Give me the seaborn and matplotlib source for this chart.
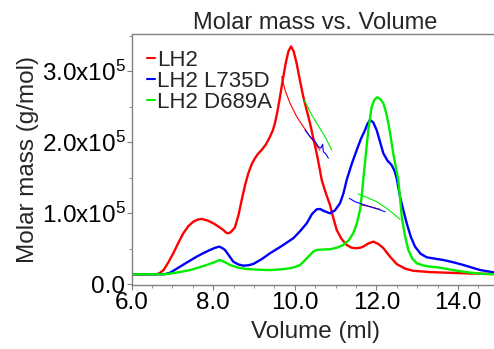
import pandas as pd
import matplotlib
matplotlib.use('Agg')
import matplotlib.pyplot as plt
import seaborn as sns
from matplotlib.ticker import MultipleLocator, FuncFormatter

# Thick traces (detector signal, plotted on the molar mass scale), molar mass in 1e5 g/mol
lh2_vol = [6.0, 6.6, 6.68, 6.78, 6.9, 7.02, 7.14, 7.265, 7.39, 7.51, 7.62, 7.716, 7.85, 8.0, 8.12,
           8.245, 8.32, 8.368, 8.43, 8.53, 8.62, 8.696, 8.78, 8.858, 8.94, 9.02, 9.10, 9.186, 9.29,
           9.39, 9.46, 9.512, 9.57, 9.635, 9.70, 9.77, 9.84, 9.905, 9.97, 10.044, 10.12, 10.206,
           10.29, 10.37, 10.45, 10.534, 10.60, 10.657, 10.76, 10.86, 10.94, 11.025, 11.14, 11.27,
           11.39, 11.515, 11.60, 11.676, 11.80, 11.92, 12.04, 12.167, 12.33, 12.495, 12.7, 12.9,
           13.3, 13.72, 14.3, 14.855, 15.0]
lh2_mm = [0.141, 0.142, 0.155, 0.20, 0.31, 0.437, 0.58, 0.718, 0.82, 0.882, 0.912, 0.92, 0.90, 0.859,
          0.815, 0.765, 0.725, 0.718, 0.735, 0.80, 0.98, 1.187, 1.40, 1.563, 1.69, 1.775, 1.84, 1.892,
          1.97, 2.079, 2.17, 2.27, 2.43, 2.64, 2.87, 3.10, 3.28, 3.35, 3.28, 3.11, 2.88, 2.64,
          2.45, 2.27, 2.06, 1.845, 1.65, 1.47, 1.28, 1.117, 0.94, 0.765, 0.64, 0.553,
          0.515, 0.507, 0.515, 0.53, 0.575, 0.60, 0.57, 0.51, 0.39, 0.285, 0.22, 0.19,
          0.172, 0.163, 0.152, 0.145, 0.141]

l735d_vol = [6.0, 6.8, 6.93, 7.05, 7.184, 7.39, 7.593, 7.76, 7.919, 8.05, 8.147, 8.22, 8.287, 8.39,
             8.49, 8.61, 8.735, 8.86, 8.98, 9.19, 9.39, 9.68, 9.96, 10.13, 10.29, 10.42, 10.534,
             10.62, 10.72, 10.86, 10.98, 11.105, 11.19, 11.27, 11.39, 11.515, 11.62, 11.718, 11.78,
             11.84, 11.92, 12.005, 12.09, 12.167, 12.27, 12.37, 12.44, 12.495, 12.576, 12.66, 12.74,
             12.84, 12.944, 13.08, 13.23, 13.44, 13.637, 13.88, 14.127, 14.34, 14.537, 14.863, 15.0]
l735d_mm = [0.141, 0.141, 0.16, 0.20, 0.248, 0.32, 0.389, 0.44, 0.483, 0.515, 0.53, 0.51, 0.483, 0.40,
            0.318, 0.28, 0.262, 0.268, 0.286, 0.355, 0.437, 0.54, 0.648, 0.75, 0.859, 0.99, 1.056,
            1.06, 1.03, 1.0, 1.04, 1.14, 1.28, 1.47, 1.69, 1.89, 2.05, 2.17, 2.26,
            2.314, 2.28, 2.17, 2.00, 1.845, 1.74, 1.68, 1.60, 1.493, 1.234, 1.04, 0.86,
            0.67, 0.53, 0.43, 0.38, 0.36, 0.342, 0.31, 0.272, 0.235, 0.201, 0.169, 0.16]

d689a_vol = [6.0, 6.8, 7.0, 7.2, 7.43, 7.64, 7.838, 8.0, 8.164, 8.29, 8.41, 8.6, 8.82, 9.1, 9.39,
             9.65, 9.88, 10.01, 10.127, 10.25, 10.37, 10.45, 10.534, 10.70, 10.86, 11.03, 11.186,
             11.32, 11.43, 11.52, 11.596, 11.64, 11.676, 11.74, 11.8, 11.882, 11.95, 12.02, 12.09,
             12.167, 12.23, 12.29, 12.35, 12.41, 12.47, 12.534, 12.58, 12.618, 12.70, 12.78, 12.88,
             12.985, 13.15, 13.31, 13.48, 13.637, 13.88, 14.127, 14.37, 14.62, 15.0]
d689a_mm = [0.141, 0.141, 0.155, 0.175, 0.20, 0.235, 0.272, 0.305, 0.342, 0.31, 0.272, 0.235, 0.215,
            0.205, 0.20, 0.21, 0.225, 0.245, 0.272, 0.34, 0.413, 0.46, 0.483, 0.49, 0.493, 0.515,
            0.553, 0.62, 0.718, 0.86, 1.046, 1.25, 1.47, 1.84, 2.17, 2.5, 2.6, 2.634, 2.61,
            2.55, 2.43, 2.27, 2.07, 1.845, 1.66, 1.47, 1.2, 0.952, 0.68, 0.483, 0.36,
            0.296, 0.265, 0.248, 0.24, 0.225, 0.20, 0.177, 0.16, 0.145, 0.141]

# Thin traces (molar mass across the peaks)
lh2_mw1_vol = [9.676, 9.757, 9.88, 10.044, 10.206, 10.37, 10.49, 10.615]
lh2_mw1 = [2.924, 2.737, 2.55, 2.36, 2.22, 2.08, 1.986, 1.89]
lh2_mw2_vol = [11.637, 11.84, 12.086]
lh2_mw2 = [1.117, 1.093, 1.056]

l735d_mw1_vol = [10.248, 10.37, 10.49, 10.573, 10.64, 10.68, 10.696, 10.76, 10.82]
l735d_mw1 = [2.173, 2.079, 2.018, 1.938, 1.92, 1.972, 1.868, 1.835, 1.775]
l735d_mw2_vol = [11.333, 11.473, 11.637, 11.84, 12.044, 12.208]
l735d_mw2 = [1.211, 1.163, 1.131, 1.093, 1.056, 1.022]

d689a_mw1_vol = [10.23, 10.37, 10.534, 10.738, 10.82, 10.90]
d689a_mw1 = [2.596, 2.431, 2.268, 2.079, 1.986, 1.892]
d689a_mw2_vol = [11.554, 11.76, 12.005, 12.25, 12.453, 12.576]
d689a_mw2 = [1.272, 1.225, 1.163, 1.07, 0.976, 0.913]

sns.set_style('ticks')
plt.rcParams['font.family'] = ['Liberation Sans', 'DejaVu Sans']
plt.rcParams['mathtext.fontset'] = 'custom'
plt.rcParams['mathtext.rm'] = 'Liberation Sans'

fig = plt.figure(figsize=(4.94, 3.49), dpi=100)
ax = fig.add_axes([0.2666, 0.182, 0.7433, 0.7206])

thick = [('LH2', lh2_vol, lh2_mm, '#ff0000'),
         ('LH2 L735D', l735d_vol, l735d_mm, '#0000ff'),
         ('LH2 D689A', d689a_vol, d689a_mm, '#00ee00')]
for name, v, m, c in thick:
    df = pd.DataFrame({'Volume': v, 'Molar mass': [x * 1e5 for x in m]})
    sns.lineplot(data=df, x='Volume', y='Molar mass', sort=False, color=c, lw=1.7, ax=ax, label=name)

thin = [(lh2_mw1_vol, lh2_mw1, '#ff0000'), (lh2_mw2_vol, lh2_mw2, '#ff0000'),
        (l735d_mw1_vol, l735d_mw1, '#0000ff'), (l735d_mw2_vol, l735d_mw2, '#0000ff'),
        (d689a_mw1_vol, d689a_mw1, '#00ee00'), (d689a_mw2_vol, d689a_mw2, '#00ee00')]
for v, m, c in thin:
    df = pd.DataFrame({'Volume': v, 'Molar mass': [x * 1e5 for x in m]})
    sns.lineplot(data=df, x='Volume', y='Molar mass', sort=False, color=c, lw=0.8, ax=ax)

ax.set_xlim(6.0, 15.0)
ax.set_ylim(-1700, 352500)
ax.xaxis.set_major_locator(MultipleLocator(2))
ax.xaxis.set_minor_locator(MultipleLocator(0.5))
ax.yaxis.set_major_locator(MultipleLocator(1e5))
ax.yaxis.set_minor_locator(MultipleLocator(0.5e5))
ax.xaxis.set_major_formatter(FuncFormatter(lambda x, p: f'{x:.1f}'))

def yfmt(y, p):
    if abs(y) < 1:
        return '0.0'
    return r'$\mathregular{%.1fx10^{5}}$' % (y / 1e5)
ax.yaxis.set_major_formatter(FuncFormatter(yfmt))

for s in ['left', 'bottom', 'top']:
    ax.spines[s].set_color('#808080')
    ax.spines[s].set_linewidth(1.0)
ax.spines['right'].set_visible(False)
ax.tick_params(which='both', colors='#808080', labelcolor='black', labelsize=17.5, direction='out')
ax.tick_params(which='major', length=3.5, pad=1)
ax.tick_params(which='minor', length=2.5)

ax.set_xlabel('Volume (ml)', fontsize=17.5, labelpad=5)
ax.set_ylabel('Molar mass (g/mol)', fontsize=17.5, labelpad=2)
ax.set_title('Molar mass vs. Volume', fontsize=17, pad=3)

leg = ax.legend(loc='upper left', bbox_to_anchor=(0.0, 1.0), frameon=False, fontsize=16,
                handlelength=0.35, handletextpad=0.1, labelspacing=0.0, borderaxespad=0.3)
for line in leg.get_lines():
    line.set_linewidth(1.5)

fig.savefig('out.png', dpi=100)
